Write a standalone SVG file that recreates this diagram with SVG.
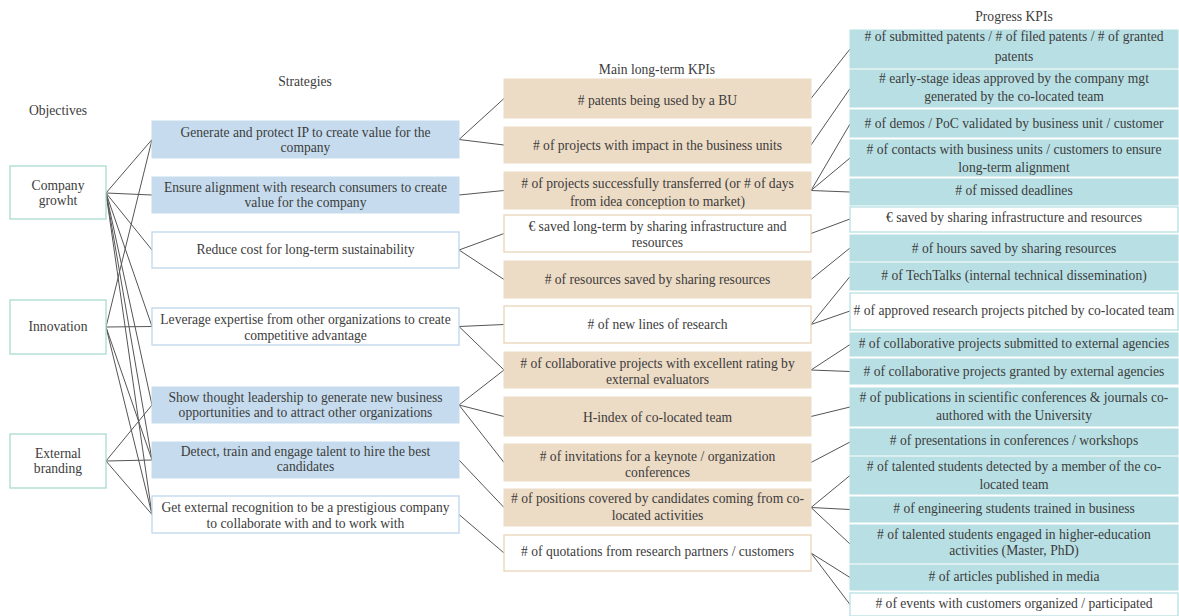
<svg xmlns="http://www.w3.org/2000/svg" width="1179" height="616" viewBox="0 0 1179 616">
<style>
text{font-family:"Liberation Serif","Times New Roman",serif;font-size:13.6px;fill:#3c3c3c;text-anchor:middle}
.obj{fill:#fff;stroke:#a9dccf;stroke-width:1.3}
.sb{fill:#c6dcee;stroke:#c6dcee}
.sw{fill:#fff;stroke:#bdd6ec;stroke-width:1.3}
.mt{fill:#ecdbc5;stroke:#ecdbc5}
.mw{fill:#fff;stroke:#e8d4b8;stroke-width:1.3}
.pt{fill:#b8e0e4;stroke:#b8e0e4}
.pw{fill:#fff;stroke:#b8e0e4;stroke-width:1.3}
#connectors line{stroke:#555;stroke-width:1}
</style>
<rect width="1179" height="616" fill="#fff"/>
<g id="titles">
<text x="58" y="115">Objectives</text>
<text x="305" y="86">Strategies</text>
<text x="657" y="74">Main long-term KPIs</text>
<text x="1014" y="21">Progress KPIs</text>
</g>
<g id="connectors">
<line x1="106" y1="193" x2="152" y2="139.5"/>
<line x1="106" y1="193" x2="152" y2="195"/>
<line x1="106" y1="193" x2="152" y2="250"/>
<line x1="106" y1="193" x2="152" y2="326.5"/>
<line x1="106" y1="193" x2="152" y2="405"/>
<line x1="106" y1="193" x2="152" y2="460"/>
<line x1="106" y1="193" x2="152" y2="514.5"/>
<line x1="106" y1="327" x2="152" y2="139.5"/>
<line x1="106" y1="327" x2="152" y2="326.5"/>
<line x1="106" y1="327" x2="152" y2="460"/>
<line x1="106" y1="327" x2="152" y2="514.5"/>
<line x1="106" y1="461" x2="152" y2="405"/>
<line x1="106" y1="461" x2="152" y2="460"/>
<line x1="106" y1="461" x2="152" y2="514.5"/>
<line x1="459" y1="139.5" x2="504" y2="98.5"/>
<line x1="459" y1="139.5" x2="504" y2="145"/>
<line x1="459" y1="195" x2="504" y2="190.5"/>
<line x1="459" y1="250" x2="504" y2="233.5"/>
<line x1="459" y1="250" x2="504" y2="279.5"/>
<line x1="459" y1="326.5" x2="504" y2="324.5"/>
<line x1="459" y1="326.5" x2="504" y2="370"/>
<line x1="459" y1="405" x2="504" y2="370"/>
<line x1="459" y1="405" x2="504" y2="416.5"/>
<line x1="459" y1="405" x2="504" y2="462.5"/>
<line x1="459" y1="460" x2="504" y2="507.5"/>
<line x1="459" y1="514.5" x2="504" y2="553"/>
<line x1="811" y1="98.5" x2="850" y2="49"/>
<line x1="811" y1="145" x2="850" y2="88.5"/>
<line x1="811" y1="190.5" x2="850" y2="124"/>
<line x1="811" y1="190.5" x2="850" y2="158"/>
<line x1="811" y1="190.5" x2="850" y2="192"/>
<line x1="811" y1="233.5" x2="850" y2="219"/>
<line x1="811" y1="279.5" x2="850" y2="248"/>
<line x1="811" y1="324.5" x2="850" y2="276.5"/>
<line x1="811" y1="324.5" x2="850" y2="311"/>
<line x1="811" y1="370" x2="850" y2="344.5"/>
<line x1="811" y1="370" x2="850" y2="371.5"/>
<line x1="811" y1="416.5" x2="850" y2="407"/>
<line x1="811" y1="462.5" x2="850" y2="442"/>
<line x1="811" y1="507.5" x2="850" y2="475.5"/>
<line x1="811" y1="507.5" x2="850" y2="509.5"/>
<line x1="811" y1="507.5" x2="850" y2="544"/>
<line x1="811" y1="553" x2="850" y2="577.5"/>
<line x1="811" y1="553" x2="850" y2="604.5"/>
</g>
<g id="obj-company"><rect class="obj" x="10" y="166" width="96" height="53"/><text x="58" y="190">Company</text><text x="58" y="205">growht</text></g>
<g id="obj-innovation"><rect class="obj" x="10" y="300" width="96" height="54"/><text x="58" y="331">Innovation</text></g>
<g id="obj-external"><rect class="obj" x="10" y="434" width="96" height="54"/><text x="58" y="458">External</text><text x="58" y="473">branding</text></g>

<g id="s1"><rect class="sb" x="152" y="121" width="307" height="37"/><text x="305.5" y="137">Generate and protect IP to create value for the</text><text x="305.5" y="152">company</text></g>
<g id="s2"><rect class="sb" x="152" y="177" width="307" height="36"/><text x="305.5" y="192">Ensure alignment with research consumers to create</text><text x="305.5" y="207">value for the company</text></g>
<g id="s3"><rect class="sw" x="152" y="232" width="307" height="36"/><text x="305.5" y="254">Reduce cost for long-term sustainability</text></g>
<g id="s4"><rect class="sw" x="152" y="308" width="307" height="37"/><text x="305.5" y="324">Leverage expertise from other organizations to create</text><text x="305.5" y="340">competitive advantage</text></g>
<g id="s5"><rect class="sb" x="152" y="387" width="307" height="36"/><text x="305.5" y="402">Show thought leadership to generate new business</text><text x="305.5" y="417">opportunities and to attract other organizations</text></g>
<g id="s6"><rect class="sb" x="152" y="442" width="307" height="36"/><text x="305.5" y="456">Detect, train and engage talent to hire the best</text><text x="305.5" y="471">candidates</text></g>
<g id="s7"><rect class="sw" x="152" y="496" width="307" height="37"/><text x="305.5" y="512">Get external recognition to be a prestigious company</text><text x="305.5" y="528">to collaborate with and to work with</text></g>

<g id="m1"><rect class="mt" x="504" y="79" width="307" height="39"/><text x="657.5" y="105">#&#160;patents being used by a BU</text></g>
<g id="m2"><rect class="mt" x="504" y="127" width="307" height="36"/><text x="657.5" y="150">#&#160;of projects with impact in the business units</text></g>
<g id="m3"><rect class="mt" x="504" y="172" width="307" height="37"/><text x="657.5" y="188">#&#160;of projects successfully transferred (or # of days</text><text x="657.5" y="206">from idea conception to market)</text></g>
<g id="m4"><rect class="mw" x="504" y="215" width="307" height="37"/><text x="657.5" y="231">€ saved long-term by sharing infrastructure and</text><text x="657.5" y="247">resources</text></g>
<g id="m5"><rect class="mt" x="504" y="261" width="307" height="37"/><text x="657.5" y="284">#&#160;of resources saved by sharing resources</text></g>
<g id="m6"><rect class="mw" x="504" y="306" width="307" height="37"/><text x="657.5" y="329">#&#160;of new lines of research</text></g>
<g id="m7"><rect class="mt" x="504" y="352" width="307" height="36"/><text x="657.5" y="368">#&#160;of collaborative projects with excellent rating by</text><text x="657.5" y="384">external evaluators</text></g>
<g id="m8"><rect class="mt" x="504" y="397" width="307" height="39"/><text x="657.5" y="422">H-index of co-located team</text></g>
<g id="m9"><rect class="mt" x="504" y="444" width="307" height="37"/><text x="657.5" y="461">#&#160;of invitations for a keynote / organization</text><text x="657.5" y="477">conferences</text></g>
<g id="m10"><rect class="mt" x="504" y="489" width="307" height="37"/><text x="657.5" y="503">#&#160;of positions covered by candidates coming from co-</text><text x="657.5" y="520">located activities</text></g>
<g id="m11"><rect class="mw" x="504" y="535" width="307" height="36"/><text x="657.5" y="556">#&#160;of quotations from research partners / customers</text></g>

<g id="p1"><rect class="pt" x="850" y="30" width="328" height="38"/><text x="1014" y="41">#&#160;of submitted patents / # of filed patents / # of granted</text><text x="1014" y="61">patents</text></g>
<g id="p2"><rect class="pt" x="850" y="70" width="328" height="37"/><text x="1014" y="83">#&#160;early-stage ideas approved by the company mgt</text><text x="1014" y="101">generated by the co-located team</text></g>
<g id="p3"><rect class="pt" x="850" y="110" width="328" height="27"/><text x="1014" y="128">#&#160;of demos / PoC validated by business unit / customer</text></g>
<g id="p4"><rect class="pt" x="850" y="140" width="328" height="36"/><text x="1014" y="154">#&#160;of contacts with business units / customers to ensure</text><text x="1014" y="172">long-term alignment</text></g>
<g id="p5"><rect class="pt" x="850" y="179" width="328" height="26"/><text x="1014" y="195">#&#160;of missed deadlines</text></g>
<g id="p6"><rect class="pw" x="850" y="207" width="328" height="25"/><text x="1014" y="222">€ saved by sharing infrastructure and resources</text></g>
<g id="p7"><rect class="pt" x="850" y="235" width="328" height="26"/><text x="1014" y="253">#&#160;of hours saved by sharing resources</text></g>
<g id="p8"><rect class="pt" x="850" y="263" width="328" height="27"/><text x="1014" y="280">#&#160;of TechTalks (internal technical dissemination)</text></g>
<g id="p9"><rect class="pw" x="850" y="293" width="328" height="37"/><text x="1014" y="315">#&#160;of approved research projects pitched by co-located team</text></g>
<g id="p10"><rect class="pt" x="850" y="333" width="328" height="23"/><text x="1014" y="348">#&#160;of collaborative projects submitted to external agencies</text></g>
<g id="p11"><rect class="pt" x="850" y="359" width="328" height="25"/><text x="1014" y="376">#&#160;of collaborative projects granted by external agencies</text></g>
<g id="p12"><rect class="pt" x="850" y="388" width="328" height="38"/><text x="1014" y="402">#&#160;of publications in scientific conferences &amp; journals co-</text><text x="1014" y="420">authored with the University</text></g>
<g id="p13"><rect class="pt" x="850" y="429" width="328" height="26"/><text x="1014" y="445">#&#160;of presentations in conferences / workshops</text></g>
<g id="p14"><rect class="pt" x="850" y="457" width="328" height="37"/><text x="1014" y="471">#&#160;of talented students detected by a member of the co-</text><text x="1014" y="489">located team</text></g>
<g id="p15"><rect class="pt" x="850" y="497" width="328" height="25"/><text x="1014" y="513">#&#160;of engineering students trained in business</text></g>
<g id="p16"><rect class="pt" x="850" y="525" width="328" height="38"/><text x="1014" y="539">#&#160;of talented students engaged in higher-education</text><text x="1014" y="555">activities (Master, PhD)</text></g>
<g id="p17"><rect class="pt" x="850" y="565" width="328" height="25"/><text x="1014" y="581">#&#160;of articles published in media</text></g>
<g id="p18"><rect class="pw" x="850" y="593" width="328" height="23"/><text x="1014" y="608">#&#160;of events with customers organized / participated</text></g>
</svg>
